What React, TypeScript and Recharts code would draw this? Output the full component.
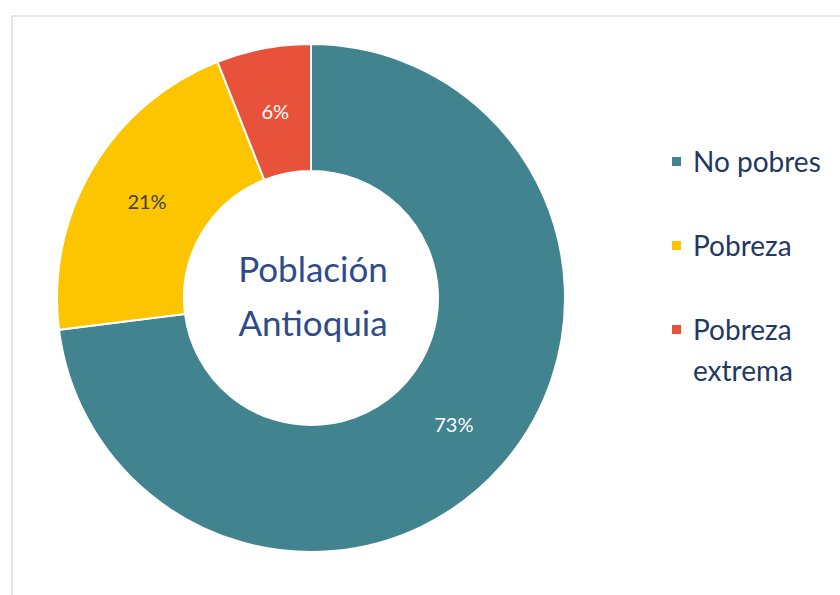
import { PieChart, Pie, Cell, Legend } from 'recharts'

const categories = ['No pobres', 'Pobreza', 'Pobreza extrema']
const shares = [73, 21, 6]
const colors = ['#41848F', '#FDC500', '#E9523A']
const labelColors = ['#FFFFFF', '#404040', '#FFFFFF']
const centerLines = ['Población', 'Antioquia']

const data = categories.map((name, i) => ({ name, value: shares[i] }))

const FONT = 'Lato, "Open Sans", sans-serif'
const RADIAN = Math.PI / 180
const CX = 311
const CY = 298

function SliceLabel(props: any) {
  const { cx, cy, midAngle, innerRadius, outerRadius, index, value } = props
  const r = (innerRadius + outerRadius) / 2
  const x = cx + r * Math.cos(-midAngle * RADIAN)
  const y = cy + r * Math.sin(-midAngle * RADIAN)
  return (
    <g>
      <text x={x} y={y} fill={labelColors[index]} textAnchor="middle" dominantBaseline="central"
        fontFamily={FONT} fontSize={20}>
        {value}%
      </text>
      {index === 0 && (
        <text textAnchor="middle" fontFamily={FONT} fontSize={35} fill="#2F4B8C">
          <tspan x={cx + 2} y={cy - 16}>{centerLines[0]}</tspan>
          <tspan x={cx + 2} y={cy + 38}>{centerLines[1]}</tspan>
        </text>
      )}
    </g>
  )
}

function LegendList(props: any) {
  const { payload } = props
  return (
    <div style={{ fontFamily: FONT, color: '#1F3864', fontSize: 28 }}>
      {payload.map((entry: any, i: number) => (
        <div key={entry.value} style={{ display: 'flex', alignItems: 'flex-start', marginBottom: 43 }}>
          <span style={{ width: 9, height: 9, background: colors[i], marginTop: 16, marginRight: 12, flexShrink: 0 }} />
          <span style={{ lineHeight: '41px', width: 150, whiteSpace: 'nowrap' }}>
            {i === 2 ? (<>Pobreza<br />extrema</>) : entry.value}
          </span>
        </div>
      ))}
    </div>
  )
}

export default function App() {
  return (
    <div style={{ position: 'absolute', left: 0, top: 0, width: 840, height: 595, overflow: 'hidden', background: '#fff' }}>
      <div style={{ position: 'absolute', left: 11, top: 15, width: 900, height: 700, border: '2px solid #E6E6E6', boxSizing: 'border-box' }} />
      <PieChart width={840} height={595} margin={{ top: 0, right: 0, bottom: 0, left: 0 }}
        style={{ position: 'absolute', left: 0, top: 0 }}>
        <Pie
          data={data}
          dataKey="value"
          nameKey="name"
          cx={CX}
          cy={CY}
          innerRadius={127}
          outerRadius={254}
          startAngle={90}
          endAngle={-270}
          stroke="#FFFFFF"
          strokeWidth={2}
          label={SliceLabel}
          labelLine={false}
          isAnimationActive={false}
        >
          {data.map((d, i) => (
            <Cell key={d.name} fill={colors[i]} />
          ))}
        </Pie>
        <Legend
          layout="vertical"
          align="right"
          verticalAlign="top"
          content={LegendList}
          wrapperStyle={{ position: 'absolute', left: 672, top: 141, width: 170 }}
        />
      </PieChart>
    </div>
  )
}
